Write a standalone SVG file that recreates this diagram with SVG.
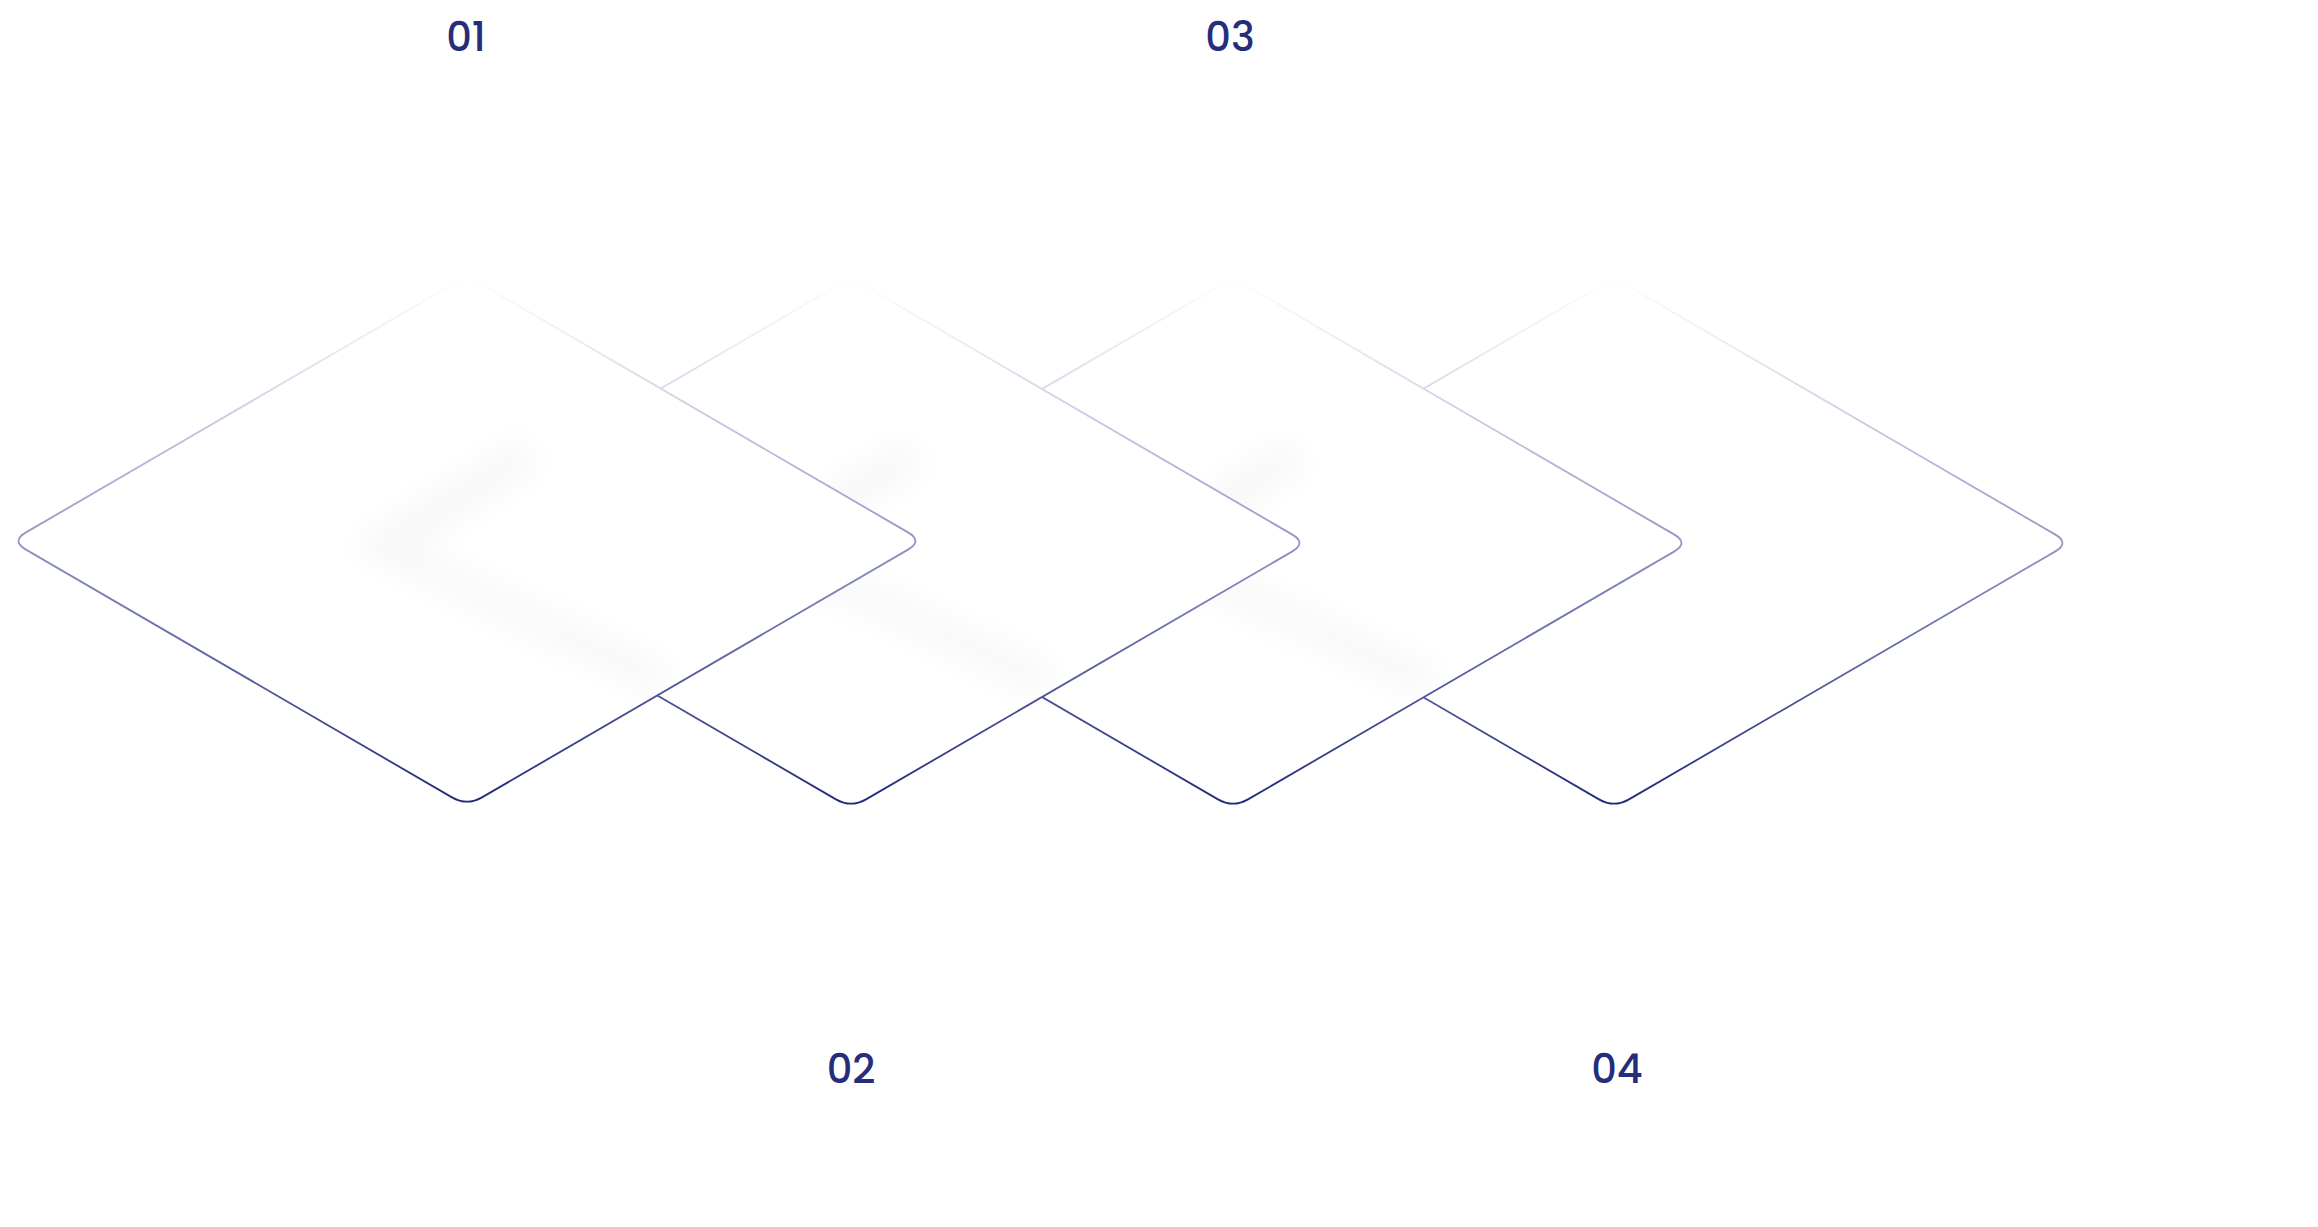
<svg xmlns="http://www.w3.org/2000/svg" width="2318" height="1227" viewBox="0 0 2318 1227">
<style>
.lbl{font-family:Poppins,"Inter","Liberation Sans",sans-serif;font-size:40px;font-weight:500;fill:#262d7a;text-anchor:middle}
.card{fill:#fff;stroke:url(#sg);stroke-width:1.8}
.shd{fill:#1a1f40;opacity:0.035}
</style>
<defs>
<linearGradient id="sg" gradientUnits="userSpaceOnUse" x1="0" y1="-265" x2="0" y2="265">
<stop offset="0" stop-color="#ffffff"/>
<stop offset="0.12" stop-color="#ececf4"/>
<stop offset="0.5" stop-color="#9095c4"/>
<stop offset="1" stop-color="#1f2878"/>
</linearGradient>
<filter id="sh" x="-50%" y="-50%" width="200%" height="200%"><feGaussianBlur stdDeviation="16"/></filter>
<path id="d" d="M -441,-8.6 L -15,-256.4 Q 0,-265 15,-256.4 L 441,-8.6 Q 456,0 441,8.6 L 15,256.4 Q 0,265 -15,256.4 L -441,8.6 Q -456,0 -441,-8.6 Z"/>
<polygon id="s" points="-115,6 50,-100 75,-80 -55,8 205,128 190,152"/>
</defs>
<g id="card4" transform="translate(1614,543)"><use href="#d" class="card"/></g>
<g id="card3" transform="translate(1233,543)"><use href="#d" class="card"/><use href="#s" class="shd" filter="url(#sh)"/></g>
<g id="card2" transform="translate(851,543)"><use href="#d" class="card"/><use href="#s" class="shd" filter="url(#sh)"/></g>
<g id="card1" transform="translate(467,541)"><use href="#d" class="card"/><use href="#s" class="shd" filter="url(#sh)"/></g>
<g id="labels">
<text class="lbl" x="466" y="51">01</text>
<text class="lbl" x="1230" y="51">03</text>
<text class="lbl" x="851" y="1083">02</text>
<text class="lbl" x="1617" y="1083">04</text>
</g>
</svg>
